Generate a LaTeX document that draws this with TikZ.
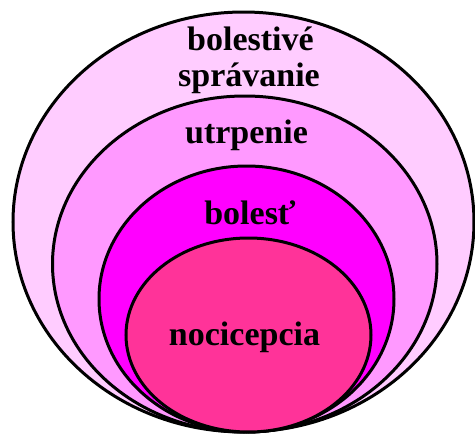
\documentclass[tikz,border=0pt]{standalone}
\usepackage{fontspec}
\setmainfont{Liberation Serif}
\usetikzlibrary{shapes.geometric}
\definecolor{pinkA}{HTML}{FFCCFF}
\definecolor{pinkB}{HTML}{FF99FF}
\definecolor{pinkC}{HTML}{FF00FF}
\definecolor{pinkD}{HTML}{FF3399}
\begin{document}
\begin{tikzpicture}[x=1pt,y=-1pt,
  ring/.style={draw=black, line width=3pt, ellipse, inner sep=0pt},
  lbl/.style={anchor=base, inner sep=0pt, font=\fontsize{34}{40}\selectfont\bfseries}]
\useasboundingbox (0,0) rectangle (475,434);
\node[ring, fill=pinkA, minimum width=461pt, minimum height=420pt] (e1) at (243.5,222) {};
\node[ring, fill=pinkB, minimum width=384.5pt, minimum height=336pt] (e2) at (244.75,264) {};
\node[ring, fill=pinkC, minimum width=295pt, minimum height=266pt] (e3) at (246.5,299) {};
\node[ring, fill=pinkD, minimum width=245pt, minimum height=194pt] (e4) at (248.5,335) {};
\node[lbl] (t1) at (250.5,50) {bolestivé};
\node[lbl] (t2) at (249,86) {správanie};
\node[lbl] (t3) at (246.5,143) {utrpenie};
\node[lbl] (t4) at (250,224) {bolesť};
\node[lbl] (t5) at (244.5,345) {nocicepcia};
\end{tikzpicture}
\end{document}
